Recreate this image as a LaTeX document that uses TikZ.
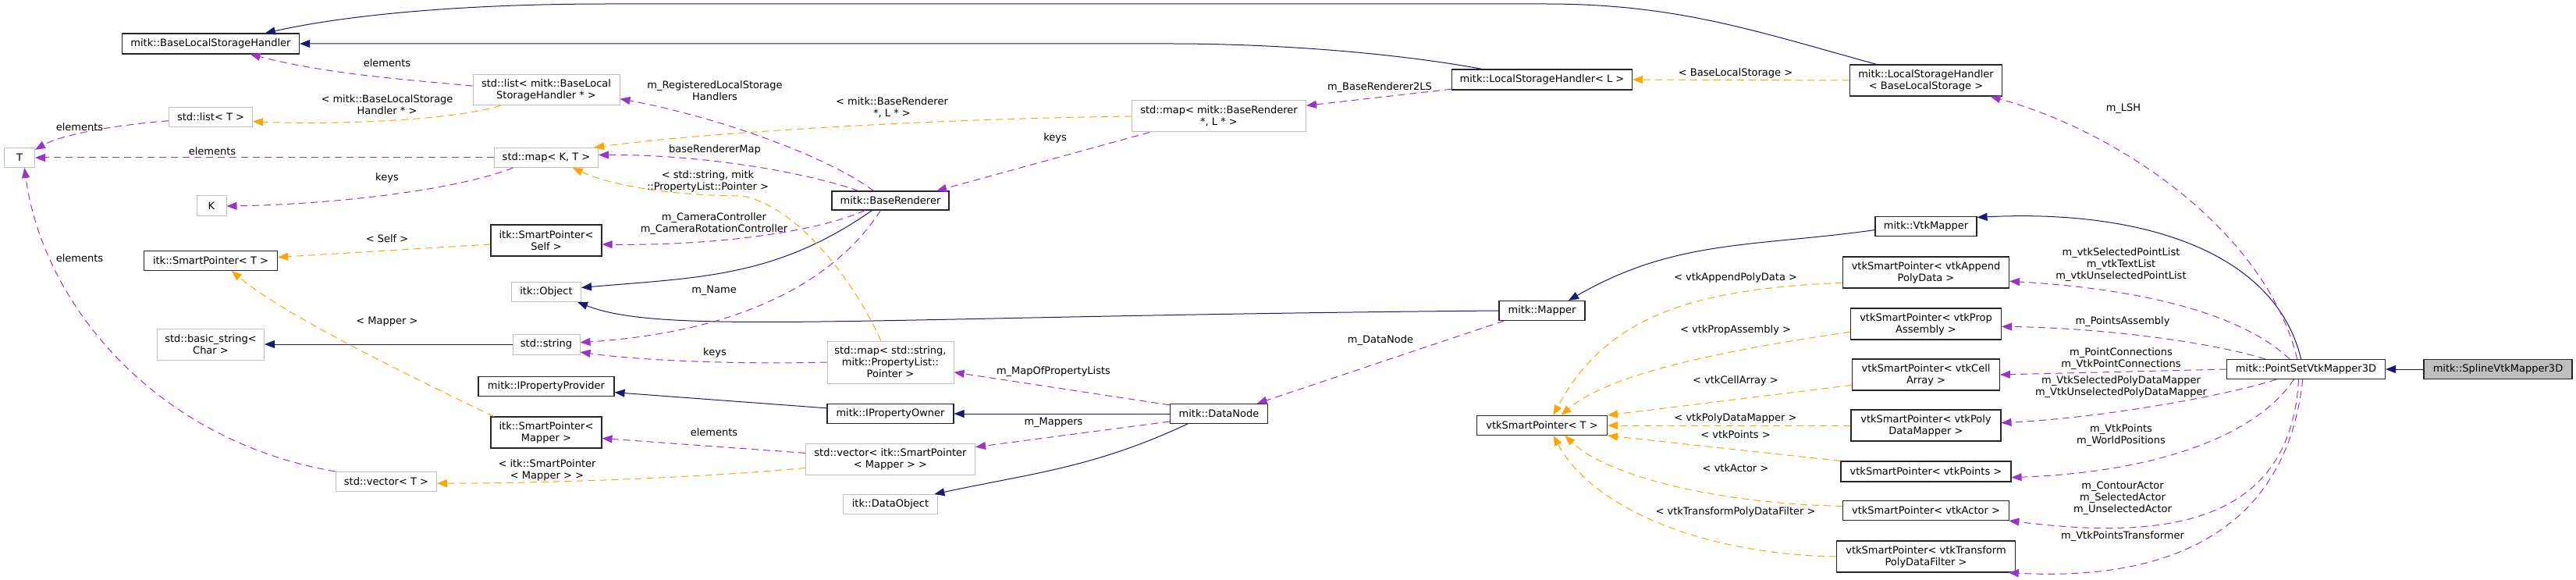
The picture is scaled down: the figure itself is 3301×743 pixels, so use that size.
\documentclass[tikz,border=0pt]{standalone}
\usepackage{fontspec}
\setmainfont{DejaVu Sans}
\usetikzlibrary{arrows.meta}
\definecolor{inhcolor}{RGB}{25,25,112}
\definecolor{usecolor}{RGB}{154,50,205}
\definecolor{tplcolor}{RGB}{255,165,0}
\definecolor{extcolor}{RGB}{191,191,191}
\newcommand{\dxfont}{\fontsize{13}{15}\selectfont}
\tikzset{
  cls/.style={draw=black!85, line width=1.1pt, fill=white, align=center, inner sep=0pt, font=\dxfont},
  ext/.style={cls, draw=extcolor, line width=1pt},
  wh/.style 2 args={minimum width=#1pt, minimum height=#2pt},
  conn/.style={line width=1pt, -{Triangle[length=13pt,width=10pt]}},
  inh/.style={conn, inhcolor},
  member/.style={conn, usecolor, dash pattern=on 9pt off 6pt},
  tpl/.style={conn, tplcolor, dash pattern=on 9pt off 6pt},
  lbl/.style={align=center, inner sep=0pt, font=\dxfont},
}

\begin{document}
\begin{tikzpicture}[x=1pt,y=-1pt]
\useasboundingbox (0,0) rectangle (3301,743);
% classes
\node[cls, wh={227}{26}] (blsh) at (270,56) {mitk::BaseLocalStorageHandler};
\node[ext, wh={188}{39}] (listblsh) at (700,115) {std::list< mitk::BaseLocal\\StorageHandler * >};
\node[ext, wh={107}{25}] (listt) at (270,150) {std::list< T >};
\node[ext, wh={39}{25}] (tt) at (25,202) {T};
\node[ext, wh={133}{25}] (mapkt) at (700,202) {std::map< K, T >};
\node[ext, wh={38}{26}] (kk) at (271,264) {K};
\node[cls, wh={142}{40}] (spself) at (700,308) {itk::SmartPointer<\\Self >};
\node[cls, wh={171}{25}] (spt) at (270,334) {itk::SmartPointer< T >};
\node[ext, wh={89}{25}] (itkobj) at (700,374) {itk::Object};
\node[ext, wh={137}{40}] (bstr) at (270,441) {std::basic\_string<\\Char >};
\node[ext, wh={86}{26}] (sstr) at (700,441) {std::string};
\node[cls, wh={174}{25}] (ipp) at (700,495) {mitk::IPropertyProvider};
\node[cls, wh={142}{40}] (spmap) at (700,554) {itk::SmartPointer<\\Mapper >};
\node[ext, wh={129}{25}] (vect) at (495,617) {std::vector< T >};
\node[cls, wh={150}{24}] (bren) at (1141,257) {mitk::BaseRenderer};
\node[ext, wh={162}{54}] (mapspl) at (1141,464) {std::map< std::string,\\mitk::PropertyList::\\Pointer >};
\node[cls, wh={162}{25}] (ipo) at (1141,530) {mitk::IPropertyOwner};
\node[ext, wh={217}{40}] (vecsp) at (1141,588) {std::vector< itk::SmartPointer\\< Mapper > >};
\node[ext, wh={121}{25}] (dobj) at (1141,646) {itk::DataObject};
\node[ext, wh={223}{40}] (mapbr) at (1562,149) {std::map< mitk::BaseRenderer\\*, L * >};
\node[cls, wh={231}{26}] (lshl) at (1976,102) {mitk::LocalStorageHandler< L >};
\node[cls, wh={125}{25}] (dnode) at (1562,530) {mitk::DataNode};
\node[cls, wh={110}{25}] (mapper) at (1976,398) {mitk::Mapper};
\node[cls, wh={167}{25}] (vtkspt) at (1976,545) {vtkSmartPointer< T >};
\node[cls, wh={195}{40}] (lshbls) at (2468,103) {mitk::LocalStorageHandler\\< BaseLocalStorage >};
\node[cls, wh={130}{25}] (vtkmap) at (2468,290) {mitk::VtkMapper};
\node[cls, wh={213}{40}] (vappend) at (2468,349) {vtkSmartPointer< vtkAppend\\PolyData >};
\node[cls, wh={193}{40}] (vprop) at (2468,415) {vtkSmartPointer< vtkProp\\Assembly >};
\node[cls, wh={189}{40}] (vcell) at (2468,480) {vtkSmartPointer< vtkCell\\Array >};
\node[cls, wh={192}{40}] (vpdm) at (2468,545) {vtkSmartPointer< vtkPoly\\DataMapper >};
\node[cls, wh={218}{26}] (vpts) at (2468,604) {vtkSmartPointer< vtkPoints >};
\node[cls, wh={213}{25}] (vactor) at (2468,654) {vtkSmartPointer< vtkActor >};
\node[cls, wh={229}{40}] (vtrans) at (2468,713) {vtkSmartPointer< vtkTransform\\PolyDataFilter >};
\node[cls, wh={203}{25}] (psvm) at (2955,473) {mitk::PointSetVtkMapper3D};
\node[cls, wh={190}{25}, fill=extcolor] (spline) at (3201,473) {mitk::SplineVtkMapper3D};

% inheritance
\draw[inh] (spline.west) -- (psvm.east);
\draw[inh] (psvm.116) .. controls (2915,320) and (2740,268) .. (vtkmap.10);
\draw[inh] (vtkmap.184) to[out=188,in=30] (mapper.21);
\draw[inh] (mapper.west) .. controls (1100,405) and (850,430) .. (itkobj.-18);
\draw[inh] (bren.-152) to[out=215,in=5] (itkobj.7);
\draw[inh] (dnode.west) -- (ipo.east);
\draw[inh] (ipo.175) -- (ipp.-5);
\draw[inh] (dnode.-162) to[out=205,in=12] (dobj.13);
\draw[inh] (sstr.west) -- (bstr.east);
\draw[inh] (lshbls.162) .. controls (2250,40) and (2150,5) .. (1980,5) -- (780,5)
  .. controls (600,5) and (450,18) .. (blsh.11);
\draw[inh] (lshl.170) .. controls (1800,70) and (1650,56) .. (1500,56) -- (blsh.east);

% members
\draw[member] (psvm.131) .. controls (2905,300) and (2720,170) .. (lshbls.-14);
\draw[member] (psvm.148) .. controls (2870,400) and (2740,370) .. (vappend.-6);
\draw[member] (psvm.166) .. controls (2840,440) and (2700,420) .. (vprop.-2);
\draw[member] (psvm.west) -- (vcell.east);
\draw[member] (psvm.199) .. controls (2860,505) and (2700,535) .. (vpdm.2);
\draw[member] (psvm.-140) .. controls (2890,560) and (2760,605) .. (vpts.-4);
\draw[member] (psvm.-126) .. controls (2935,680) and (2760,690) .. (vactor.-7);
\draw[member] (psvm.-108) .. controls (2930,680) and (2780,745) .. (vtrans.-11);
\draw[member] (mapper.-165) -- (dnode.15);
\draw[member] (dnode.170) -- (mapspl.-9);
\draw[member] (dnode.-171) -- (vecsp.8);
\draw[member] (vecsp.176) -- (spmap.-6);
\draw[member] (mapspl.west) .. controls (950,467) and (820,462) .. (sstr.-13);
\draw[member] (bren.-135) .. controls (1070,360) and (950,425) .. (sstr.3);
\draw[member] (bren.-159) .. controls (1040,300) and (900,315) .. (spself.-4);
\draw[member] (bren.163) .. controls (1030,220) and (900,198) .. (mapkt.3);
\draw[member] (bren.150) .. controls (1060,200) and (920,150) .. (listblsh.-7);
\draw[member] (mapbr.-167) -- (bren.12);
\draw[member] (lshl.-174) -- (mapbr.7);
\draw[member] (listblsh.177) .. controls (520,102) and (420,95) .. (blsh.-15);
\draw[member] (listt.-175) .. controls (150,160) and (80,172) .. (tt.27);
\draw[member] (mapkt.west) -- (tt.east);
\draw[member] (mapkt.-163) .. controls (580,245) and (420,262) .. (kk.east);
\draw[member] (vect.north west) .. controls (200,565) and (55,390) .. (tt.-64);

% template instances
\draw[tpl] (lshbls.west) -- (lshl.east);
\draw[tpl] (mapbr.west) .. controls (1200,152) and (900,170) .. (mapkt.12);
\draw[tpl] (mapspl.114) .. controls (1095,360) and (1020,262) .. (950,251)
  .. controls (900,251) and (800,245) .. (mapkt.-21);
\draw[tpl] (spself.184) -- (spt.3);
\draw[tpl] (spmap.163) .. controls (500,470) and (360,400) .. (spt.-26);
\draw[tpl] (vecsp.-174) .. controls (900,612) and (700,619) .. (vect.-2);
\draw[tpl] (listblsh.-161) .. controls (580,155) and (420,160) .. (listt.-6);
\draw[tpl] (vappend.-173) .. controls (2180,370) and (2060,400) .. (vtkspt.42);
\draw[tpl] (vprop.-174) .. controls (2200,450) and (2060,480) .. (vtkspt.28);
\draw[tpl] (vcell.-172) -- (vtkspt.north east);
\draw[tpl] (vpdm.west) -- (vtkspt.east);
\draw[tpl] (vpts.north west) -- (vtkspt.south east);
\draw[tpl] (vactor.177) .. controls (2200,645) and (2060,610) .. (vtkspt.-24);
\draw[tpl] (vtrans.west) .. controls (2180,710) and (2040,650) .. (vtkspt.-42);

% labels
\node[lbl] (lLSH) at (2721,139) {m\_LSH};
\node[lbl] (lAppend) at (2718,339) {m\_vtkSelectedPointList\\m\_vtkTextList\\m\_vtkUnselectedPointList};
\node[lbl] (lProp) at (2720,412) {m\_PointsAssembly};
\node[lbl] (lCell) at (2718,460) {m\_PointConnections\\m\_VtkPointConnections};
\node[lbl] (lPdm) at (2718,496) {m\_VtkSelectedPolyDataMapper\\m\_VtkUnselectedPolyDataMapper};
\node[lbl] (lPts) at (2718,558) {m\_VtkPoints\\m\_WorldPositions};
\node[lbl] (lActor) at (2720,638) {m\_ContourActor\\m\_SelectedActor\\m\_UnselectedActor};
\node[lbl] (lTrans) at (2720,687) {m\_VtkPointsTransformer};
\node[lbl] (lDataNode) at (1769,436) {m\_DataNode};
\node[lbl] (lMapPL) at (1350,476) {m\_MapOfPropertyLists};
\node[lbl] (lMappers) at (1350,541) {m\_Mappers};
\node[lbl] (lElemSp) at (915,554) {elements};
\node[lbl] (lKeysStr) at (916,452) {keys};
\node[lbl] (lName) at (915,372) {m\_Name};
\node[lbl] (lCam) at (915,287) {m\_CameraController\\m\_CameraRotationController};
\node[lbl] (lBRMap) at (916,192) {baseRendererMap};
\node[lbl] (lRegLSH) at (916,116) {m\_RegisteredLocalStorage\\Handlers};
\node[lbl] (lKeysBR) at (1352,177) {keys};
\node[lbl] (lBR2LS) at (1768,112) {m\_BaseRenderer2LS};
\node[lbl] (lElemBLSH) at (496,81) {elements};
\node[lbl] (lElemList) at (102,163) {elements};
\node[lbl] (lElemMap) at (272,194) {elements};
\node[lbl] (lKeysK) at (496,228) {keys};
\node[lbl] (lElemVec) at (102,331) {elements};
\node[lbl] (tBLS) at (2224,94) {< BaseLocalStorage >};
\node[lbl] (tBR) at (1143,138) {< mitk::BaseRenderer\\*, L * >};
\node[lbl] (tStrPL) at (907,232) {< std::string, mitk\\::PropertyList::Pointer >};
\node[lbl] (tSelf) at (496,306) {< Self >};
\node[lbl] (tMapper) at (496,412) {< Mapper >};
\node[lbl] (tSpMapper) at (701,602) {< itk::SmartPointer\\< Mapper > >};
\node[lbl] (tBLSH) at (496,134) {< mitk::BaseLocalStorage\\Handler * >};
\node[lbl] (tAppend) at (2224,356) {< vtkAppendPolyData >};
\node[lbl] (tProp) at (2224,423) {< vtkPropAssembly >};
\node[lbl] (tCell) at (2224,488) {< vtkCellArray >};
\node[lbl] (tPdm) at (2224,536) {< vtkPolyDataMapper >};
\node[lbl] (tPts) at (2224,557) {< vtkPoints >};
\node[lbl] (tActor) at (2224,600) {< vtkActor >};
\node[lbl] (tTrans) at (2224,656) {< vtkTransformPolyDataFilter >};
\end{tikzpicture}
\end{document}
